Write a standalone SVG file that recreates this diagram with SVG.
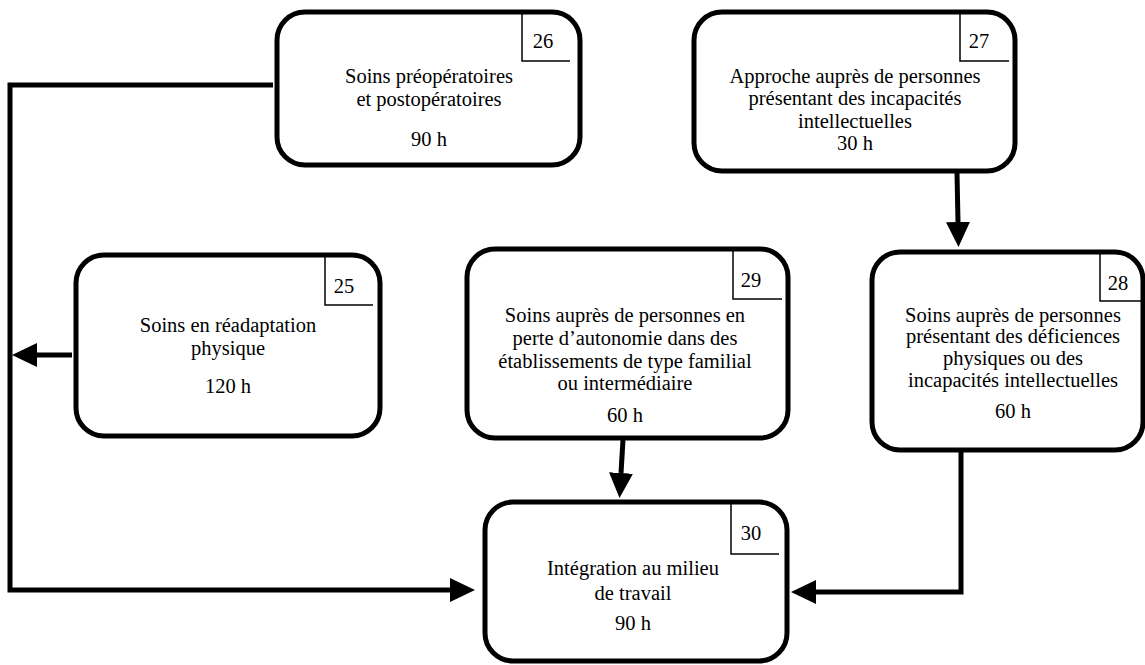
<svg xmlns="http://www.w3.org/2000/svg" width="1145" height="665" viewBox="0 0 1145 665">
<style>
.box{fill:#fff;stroke:#000;stroke-width:5}
.num{fill:none;stroke:#000;stroke-width:1.5}
.t{font-family:"Liberation Serif","Times New Roman",serif;font-size:20.5px;fill:#000;text-anchor:middle}
.c{fill:none;stroke:#000;stroke-width:5}
</style>
<defs>
<marker id="ah" markerUnits="userSpaceOnUse" markerWidth="26" markerHeight="26" refX="0" refY="12" orient="auto" viewBox="0 0 26 24">
<path d="M0,0 L25,12 L0,24 Z" fill="#000"/>
</marker>
</defs>
<g id="connectors">
<polyline class="c" points="273,85 10,85 10,590 450,590" marker-end="url(#ah)"/>
<line class="c" x1="72" y1="355" x2="37" y2="355" marker-end="url(#ah)"/>
<line class="c" x1="957" y1="173" x2="958" y2="222" marker-end="url(#ah)"/>
<line class="c" x1="623" y1="440" x2="621" y2="473" marker-end="url(#ah)"/>
<polyline class="c" points="961,452 961,592 816,592" marker-end="url(#ah)"/>
</g>
<g id="n26">
<rect class="box" x="277" y="12" width="303" height="153" rx="28"/>
<polyline class="num" points="522,12 522,61 570,61"/>
<text class="t" x="543" y="48">26</text>
<text class="t" x="429" y="83">Soins préopératoires</text>
<text class="t" x="429" y="106">et postopératoires</text>
<text class="t" x="429" y="146">90 h</text>
</g>
<g id="n27">
<rect class="box" x="694" y="12" width="321" height="159" rx="28"/>
<polyline class="num" points="960,12 960,61 1009,61"/>
<text class="t" x="979" y="48">27</text>
<text class="t" x="855" y="83">Approche auprès de personnes</text>
<text class="t" x="855" y="105">présentant des incapacités</text>
<text class="t" x="855" y="128">intellectuelles</text>
<text class="t" x="855" y="150">30 h</text>
</g>
<g id="n25">
<rect class="box" x="76" y="255" width="304" height="181" rx="28"/>
<polyline class="num" points="325,255 325,305 373,305"/>
<text class="t" x="344" y="293">25</text>
<text class="t" x="228" y="332">Soins en réadaptation</text>
<text class="t" x="228" y="355">physique</text>
<text class="t" x="228" y="393">120 h</text>
</g>
<g id="n29">
<rect class="box" x="467" y="249" width="321" height="189" rx="28"/>
<polyline class="num" points="733,249 733,299 782,299"/>
<text class="t" x="751" y="287">29</text>
<text class="t" x="625" y="322">Soins auprès de personnes en</text>
<text class="t" x="625" y="345">perte d’autonomie dans des</text>
<text class="t" x="625" y="368">établissements de type familial</text>
<text class="t" x="625" y="390">ou intermédiaire</text>
<text class="t" x="625" y="422">60 h</text>
</g>
<g id="n28">
<rect class="box" x="872" y="252" width="271" height="198" rx="28"/>
<polyline class="num" points="1100,252 1100,301 1145,301"/>
<text class="t" x="1118" y="290">28</text>
<text class="t" x="1013" y="322">Soins auprès de personnes</text>
<text class="t" x="1013" y="343">présentant des déficiences</text>
<text class="t" x="1013" y="365">physiques ou des</text>
<text class="t" x="1013" y="387">incapacités intellectuelles</text>
<text class="t" x="1013" y="418">60 h</text>
</g>
<g id="n30">
<rect class="box" x="485" y="502" width="302" height="159" rx="28"/>
<polyline class="num" points="731,502 731,554 779,554"/>
<text class="t" x="751" y="540">30</text>
<text class="t" x="633" y="575">Intégration au milieu</text>
<text class="t" x="633" y="600">de travail</text>
<text class="t" x="633" y="630">90 h</text>
</g>
</svg>
